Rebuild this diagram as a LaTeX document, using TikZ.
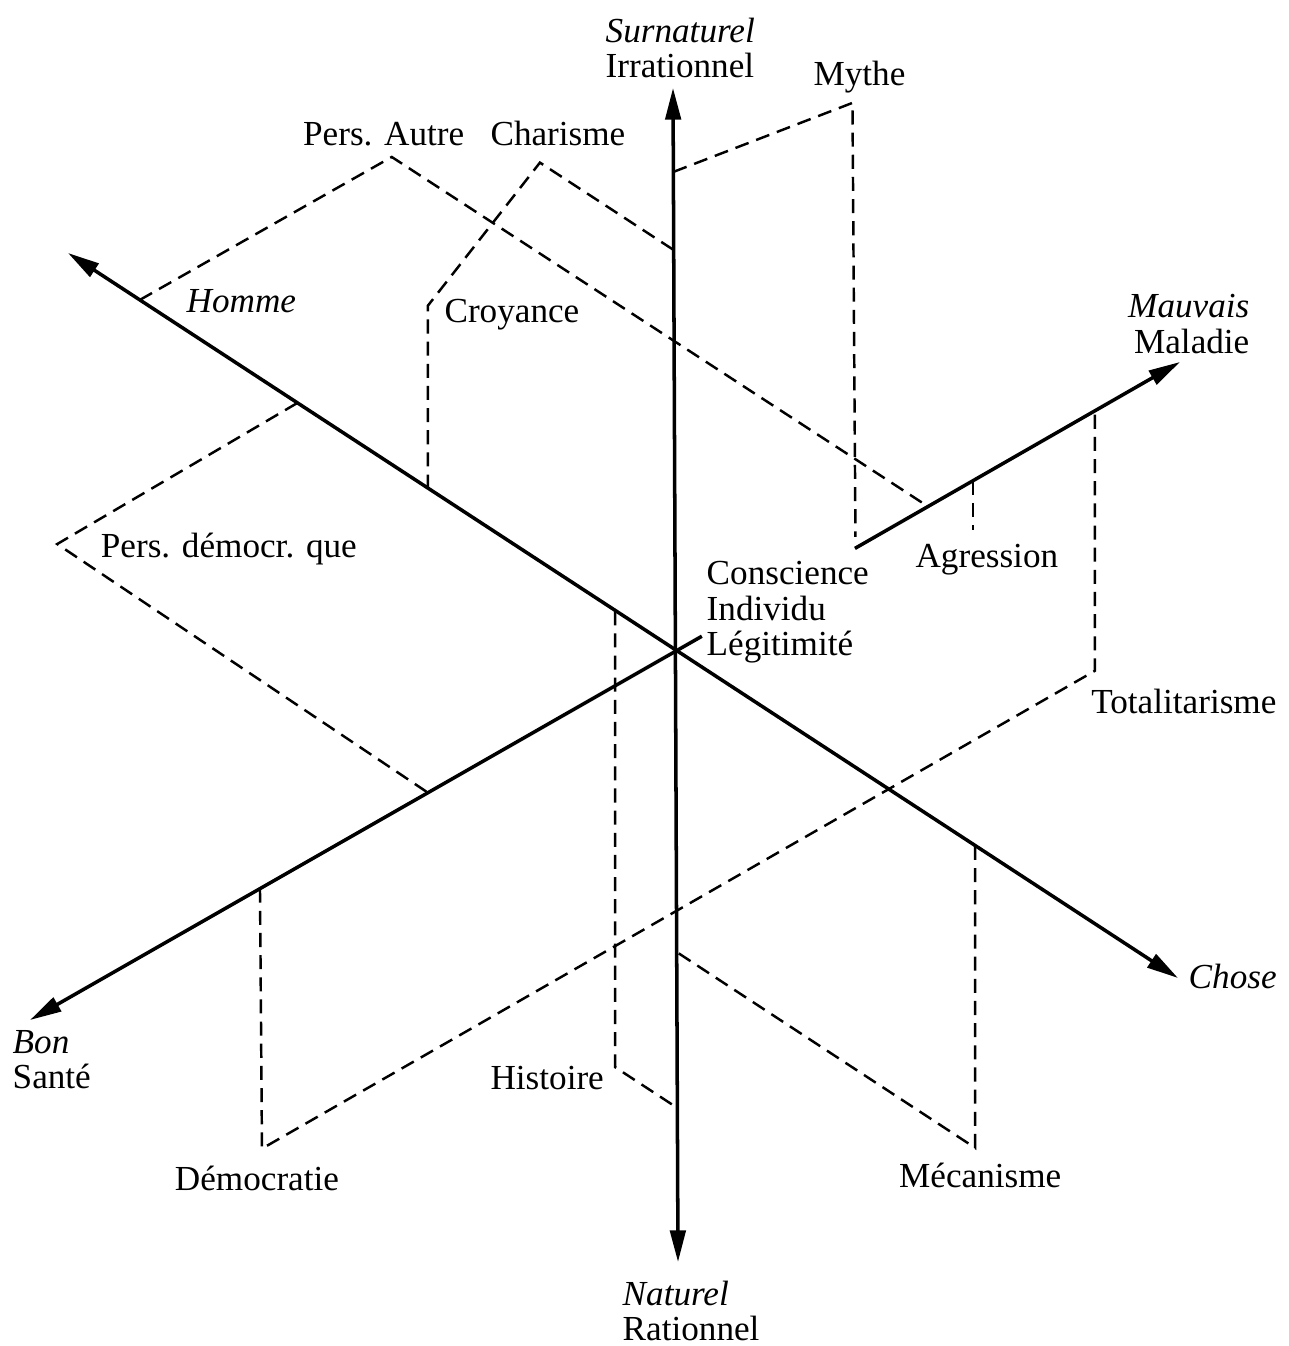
\documentclass[tikz,border=0pt]{standalone}
\usepackage{fontspec}
\setmainfont{Liberation Serif}
\usetikzlibrary{calc}
\usetikzlibrary{arrows.meta}
\tikzstyle{axisline} = [line width=1pt, >={Triangle[length=9pt,width=4.4pt]}]
\tikzstyle{projline} = [line width=0.7pt, dash pattern=on 4pt off 2.3pt]
\tikzstyle{termnode} = [inner sep=0pt, text height=1.5ex, text depth=.25ex]
\tikzstyle{polenode} = [inner sep=0pt, align=left, anchor=north west]

\begin{document}
\begin{tikzpicture}[x=0.01cm, y=-0.01cm, font=\fontsize{10}{10}\selectfont]
\useasboundingbox (0,0) rectangle (1288,1346);
\coordinate (O) at (676,651);
\coordinate (surnaturel) at (673,88);
\coordinate (naturel) at (678,1262);
\coordinate (homme) at (68,253);
\coordinate (chose) at (1178,978);
\coordinate (bon) at (30,1020);
\coordinate (mauvais) at (1180,362);
\coordinate (legit) at ($(O)!-0.04!(bon)$);
\coordinate (consc) at ($(O)!0.355!(mauvais)$);
\draw[axisline, <->] (surnaturel) -- (naturel);
\draw[axisline, <->] (homme) -- (chose);
\draw[axisline, ->] (legit) -- (bon);
\draw[axisline, ->] (consc) -- (mauvais);

\coordinate (autre1) at ($(O)!0.882!(homme)$);
\coordinate (autre2) at ($(autre1)+(252,-143)$);
\coordinate (autre3) at ($(O)!0.5!(mauvais)$);
\coordinate (charisme1) at ($(O)!0.408!(homme)$);
\coordinate (charisme2) at ($(charisme1)+(0,-183)$);
\coordinate (charisme3) at ($(charisme2)+(112,-143)$);
\coordinate (charisme4) at ($(O)!0.712!(surnaturel)$);
\coordinate (mythe1) at ($(O)!0.851!(surnaturel)$);
\coordinate (mythe2) at ($(mythe1)+(179,-69)$);
\coordinate (mythe3) at ($(mythe2)+(3,434)$);
\coordinate (demo1) at ($(O)!0.623!(homme)$);
\coordinate (demo2) at ($(demo1)+(-240,141)$);
\coordinate (demo3) at ($(O)!0.384!(bon)$);
\coordinate (hist1) at ($(O)!0.1!(homme)$);
\coordinate (hist2) at ($(hist1)+(0,456)$);
\coordinate (hist3) at ($(O)!0.748!(naturel)$);
\coordinate (democ1) at ($(O)!0.644!(bon)$);
\coordinate (democ2) at ($(democ1)+(2,260)$);
\coordinate (total2) at ($(O)!0.831!(mauvais)$);
\coordinate (total1) at ($(total2)+(0,260)$);
\coordinate (meca1) at ($(O)!0.596!(chose)$);
\coordinate (meca2) at ($(meca1)+(0,302)$);
\coordinate (meca3) at ($(O)!0.493!(naturel)$);
\coordinate (agr1) at ($(O)!0.589!(mauvais)$);
\coordinate (agr2) at ($(agr1)+(0,49)$);

\draw[projline] (autre1) -- (autre2) -- (autre3);
\draw[projline] (charisme1) -- (charisme2) -- (charisme3) -- (charisme4);
\draw[projline] (mythe1) -- (mythe2) -- (mythe3);
\draw[projline] (demo1) -- (demo2) -- (demo3);
\draw[projline] (hist1) -- (hist2) -- (hist3);
\draw[projline] (democ1) -- (democ2) -- (total1) -- (total2);
\draw[projline] (meca1) -- (meca2) -- (meca3);
\draw[projline] (agr1) -- (agr2);

\node[polenode] (surn) at (605,17) {\textit{Surnaturel}\\Irrationnel};
\node[polenode] (nat) at (622,1280) {\textit{Naturel}\\Rationnel};
\node[polenode, align=right, anchor=north east] (mauv) at (1250,294) {\textit{Mauvais}\\Maladie};
\node[polenode] (bonl) at (12,1030) {\textit{Bon}\\Santé};
\node[polenode] (centre) at (706,561) {Conscience\\Individu\\Légitimité};
\node[termnode, anchor=west] (hommel) at (186,302) {\textit{Homme}};
\node[termnode, anchor=west] (chosel) at (1188,978) {\textit{Chose}};

\node[termnode] (autre) at ($(autre2)+(-8,-22)$) {Pers. Autre};
\node[termnode] (charisme) at ($(charisme3)+(18,-27)$) {Charisme};
\node[termnode] (mythe) at ($(mythe2)+(7,-27)$) {Mythe};
\node[termnode] (croyance) at ($(charisme2)+(84,7)$) {Croyance};
\node[termnode, anchor=west] (democr) at ($(demo2)+(43,3)$) {Pers. démocr. que};
\node[termnode] (agression) at ($(agr2)+(14,28)$) {Agression};
\node[termnode] (totalit) at ($(total1)+(89,33)$) {Totalitarisme};
\node[termnode] (histoire) at ($(hist2)+(-68,12)$) {Histoire};
\node[termnode] (democratie) at ($(democ2)+(-5,32)$) {Démocratie};
\node[termnode] (mecanisme) at ($(meca2)+(5,30)$) {Mécanisme};
\end{tikzpicture}
\end{document}
